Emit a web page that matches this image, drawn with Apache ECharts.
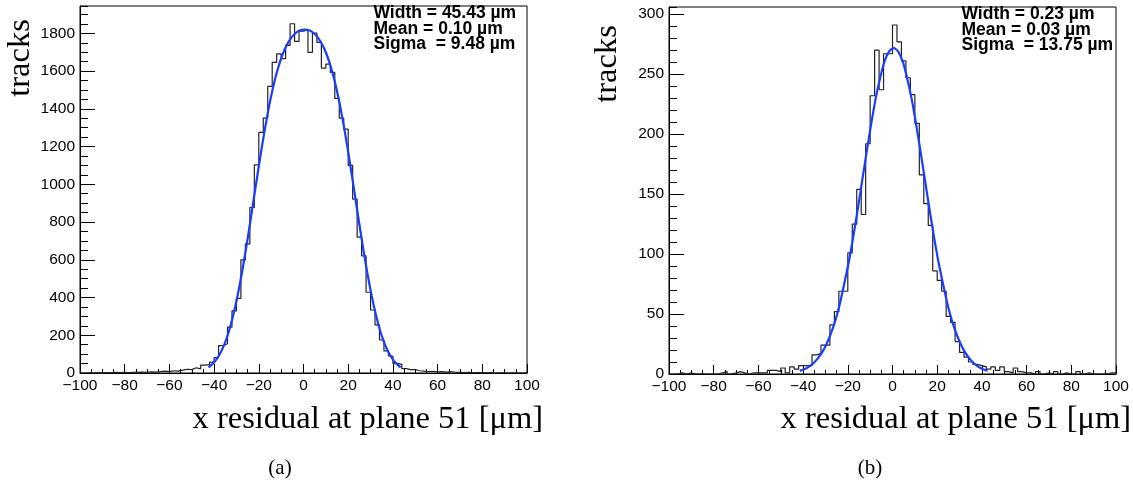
<!DOCTYPE html>
<html><head><meta charset="utf-8">
<script src="https://cdn.jsdelivr.net/npm/echarts@6/dist/echarts.min.js"></script>
<style>html,body{margin:0;padding:0;background:#fff}#c{width:1133px;height:486px}</style>
</head><body><div id="c"></div>
<script>
// ---- data ----
const binLow = -100;      // lower edge of the histogram range (µm)
const binWidth = 2;       // bin width (µm)

// panel (a): counts per 2 µm bin, from -100 to 100
const countsA = [
  0,1,0,2,1,2,1,3,2,3,
  2,4,3,5,4,6,5,8,10,7,
  12,10,15,20,18,28,22,42,44,58,
  82,145,155,243,329,396,600,684,877,1103,
  1275,1351,1519,1646,1691,1666,1736,1851,1757,1812,
  1818,1699,1802,1752,1616,1637,1593,1455,1351,1293,
  1100,921,720,621,428,334,255,175,117,90,
  51,46,23,18,18,12,10,8,9,6,
  7,5,8,4,3,2,3,1,2,2,
  1,2,0,1,1,0,1,0,0,1
];
// panel (b)
const countsB = [
  0,0,1,0,1,0,0,0,0,0,
  0,1,2,0,1,2,1,0,1,1,
  1,1,3,3,2,5,1,6,4,7,
  7,7,16,17,24,24,41,52,69,69,
  101,125,154,133,192,232,270,237,267,267,
  291,277,261,247,233,209,166,142,124,86,
  78,69,48,43,27,18,14,10,8,7,
  6,4,6,3,6,2,1,5,2,1,
  1,0,2,0,1,0,2,0,1,0,
  0,2,0,1,0,0,0,0,1,1
];

// fitted curves, points
const fitAx = [-42.5,-41.5,-39.5,-37.5,-35.5,-33.5,-31.5,-29.5,-27.5,-25.5,-23.5,-21.5,-19.5,-17.5,-15.5,-13.5,-11.5,-9.5,-7.5,-5.5,-3.5,-1.5,0.5,2.5,4.5,6.5,8.5,10.5,12.5,14.5,16.5,18.5,20.5,22.5,24.5,26.5,28.5,30.5,32.5,34.5,36.5,38.5,40.5,42.5,43.5];
const fitAy = [30,39,63,99,149,216,303,409,534,674,826,981,1134,1278,1408,1520,1611,1684,1738,1776,1802,1816,1820,1816,1802,1776,1738,1684,1611,1520,1408,1278,1134,981,826,674,534,409,303,216,149,99,63,39,30];
const fitBx = [-41.5,-39.5,-37.5,-35.5,-33.5,-31.5,-29.5,-27.5,-25.5,-23.5,-21.5,-19.5,-17.5,-15.5,-13.5,-11.5,-9.5,-7.5,-5.5,-3.5,-1.5,0.5,2.5,4.5,6.5,8.5,10.5,12.5,14.5,16.5,18.5,20.5,22.5,24.5,26.5,28.5,30.5,32.5,34.5,36.5,38.5,40.5,42.5];
const fitBy = [2.6,3.9,6.0,8.8,12.8,18,25,34,45,59,76,94,115,138,162,186,209,230,247,261,269,272,269,261,247,230,209,186,162,138,115,94,76,59,45,34,25,18,12.8,8.8,6.0,3.9,2.6];

// axis ranges / tick labels
const xTickLabels = ['\u2212100','\u221280','\u221260','\u221240','\u221220','0','20','40','60','80','100'];
const yMaxA = 1945, yStepA = 200, yMinorA = 50;
const yMaxB = 306,  yStepB = 50,  yMinorB = 10;

const statsA = ['Width = 45.43 \u00b5m', 'Mean = 0.10 \u00b5m', 'Sigma  = 9.48 \u00b5m'];
const statsB = ['Width = 0.23 \u00b5m', 'Mean = 0.03 \u00b5m', 'Sigma  = 13.75 \u00b5m'];
const yTitle = 'tracks';
const xTitle = 'x residual at plane 51 [\u03bcm]';
const captions = ['(a)', '(b)'];

// ---- chart ----
function stepData(counts) {
  const d = counts.map((v, i) => [binLow + i * binWidth, v]);
  d.push([binLow + counts.length * binWidth, counts[counts.length - 1]]);
  return d;
}
function pairs(xs, ys) { return xs.map((x, i) => [x, ys[i]]); }

const BLACK = '#000';
const labelFont = { color: BLACK, fontFamily: '"Liberation Sans", Arial, sans-serif', fontSize: 15.5 };

function xAx(g) {
  return {
    type: 'value', gridIndex: g, min: -100, max: 100, interval: 20,
    axisLine: { show: true, onZero: false, lineStyle: { color: BLACK, width: 1 } },
    axisTick: { show: true, inside: true, length: 9, lineStyle: { color: BLACK, width: 1 } },
    minorTick: { show: true, splitNumber: 4, length: 4, lineStyle: { color: BLACK, width: 1 } },
    splitLine: { show: false }, minorSplitLine: { show: false },
    axisLabel: Object.assign({ margin: 5, formatter: v => xTickLabels[Math.round((v + 100) / 20)] }, labelFont)
  };
}
function yAxMain(g, max, step) {
  return {
    type: 'value', gridIndex: g, min: 0, max: max, interval: step,
    axisLine: { show: true, onZero: false, lineStyle: { color: BLACK, width: 1 } },
    axisTick: { show: true, inside: true, length: 15, lineStyle: { color: BLACK, width: 1 } },
    splitLine: { show: false },
    axisLabel: Object.assign({ margin: 5, showMaxLabel: false, formatter: v => String(v) }, labelFont)
  };
}
function yAxMinor(g, max, step) {
  return {
    type: 'value', gridIndex: g, min: 0, max: max, interval: step, position: 'left', offset: 0,
    axisLine: { show: false, onZero: false },
    axisTick: { show: true, inside: true, length: 8, lineStyle: { color: BLACK, width: 1 } },
    splitLine: { show: false },
    axisLabel: { show: false }
  };
}

function statText(lines, x, y0) {
  return lines.map((t, i) => ({
    type: 'text', x: x, y: y0 + i * 15.8,
    style: { text: t, font: 'bold 17.5px "Liberation Sans", Arial, sans-serif', fill: BLACK, align: 'left', verticalAlign: 'middle' }
  }));
}

const serif = '"Liberation Serif", "DejaVu Serif", serif';

const chart = echarts.init(document.getElementById('c'), null, { renderer: 'canvas' });
chart.setOption({
  animation: false,
  backgroundColor: '#fff',
  grid: [
    { left: 80, top: 6, width: 447, height: 367, show: true, borderColor: BLACK, borderWidth: 1, backgroundColor: 'transparent' },
    { left: 669, top: 7, width: 447, height: 367, show: true, borderColor: BLACK, borderWidth: 1, backgroundColor: 'transparent' }
  ],
  xAxis: [xAx(0), xAx(1)],
  yAxis: [yAxMain(0, yMaxA, yStepA), yAxMinor(0, yMaxA, yMinorA), yAxMain(1, yMaxB, yStepB), yAxMinor(1, yMaxB, yMinorB)],
  series: [
    { type: 'line', xAxisIndex: 0, yAxisIndex: 0, data: stepData(countsA), step: 'end', symbol: 'none',
      lineStyle: { color: '#222', width: 1.2 }, z: 2 },
    { type: 'line', xAxisIndex: 0, yAxisIndex: 0, data: pairs(fitAx, fitAy), smooth: 0.2, symbol: 'none',
      lineStyle: { color: '#1a3cff', width: 2.2 }, z: 3 },
    { type: 'line', xAxisIndex: 1, yAxisIndex: 2, data: stepData(countsB), step: 'end', symbol: 'none',
      lineStyle: { color: '#222', width: 1.2 }, z: 2 },
    { type: 'line', xAxisIndex: 1, yAxisIndex: 2, data: pairs(fitBx, fitBy), smooth: 0.2, symbol: 'none',
      lineStyle: { color: '#1a3cff', width: 2.2 }, z: 3 }
  ],
  graphic: [
    { type: 'text', x: 20, y: 58, rotation: Math.PI / 2,
      style: { text: yTitle, font: '32.5px ' + serif, fill: BLACK, align: 'center', verticalAlign: 'middle' } },
    { type: 'text', x: 607, y: 64, rotation: Math.PI / 2,
      style: { text: yTitle, font: '32.5px ' + serif, fill: BLACK, align: 'center', verticalAlign: 'middle' } },
    { type: 'text', x: 543, y: 419,
      style: { text: xTitle, font: '32.5px ' + serif, fill: BLACK, align: 'right', verticalAlign: 'middle' } },
    { type: 'text', x: 1131, y: 419,
      style: { text: xTitle, font: '32.5px ' + serif, fill: BLACK, align: 'right', verticalAlign: 'middle' } },
    { type: 'text', x: 280, y: 468,
      style: { text: captions[0], font: '21px ' + serif, fill: BLACK, align: 'center', verticalAlign: 'middle' } },
    { type: 'text', x: 870, y: 468,
      style: { text: captions[1], font: '21px ' + serif, fill: BLACK, align: 'center', verticalAlign: 'middle' } }
  ].concat(statText(statsA, 373.5, 13), statText(statsB, 961.5, 14))
});
</script>
</body></html>
